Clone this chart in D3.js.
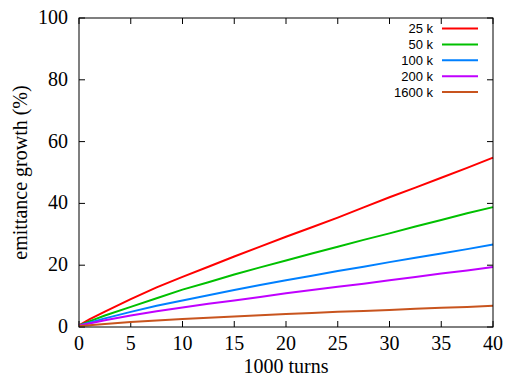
<!DOCTYPE html>
<html>
<head>
<meta charset="utf-8">
<script src="https://cdn.jsdelivr.net/npm/d3@7"></script>
<style>
  body { margin: 0; background: #fff; }
  .tick-label { font-family: "Liberation Serif", "DejaVu Serif", serif; font-size: 20px; fill: #000; }
  .axis-title { font-family: "Liberation Serif", "DejaVu Serif", serif; font-size: 20px; fill: #000; }
  .legend-text { font-family: "Liberation Sans", Arial, sans-serif; font-size: 13px; fill: #000; }
</style>
</head>
<body>
<div id="chart"></div>
<script>
// turns (x1000)
const turns = [0, 1, 2.5, 5, 7.5, 10, 12.5, 15, 17.5, 20, 22.5, 25, 27.5, 30, 32.5, 35, 37.5, 40];

// emittance growth (%) per macro-particle count
const growth25k   = [0.5, 2.5, 5.0, 9.0, 12.8, 16.2, 19.5, 22.8, 26.0, 29.2, 32.3, 35.4, 38.7, 42.0, 45.1, 48.3, 51.5, 54.8];
const growth50k   = [0.5, 1.8, 3.7, 6.5, 9.3, 12.1, 14.5, 17.0, 19.3, 21.5, 23.8, 26.0, 28.2, 30.3, 32.5, 34.6, 36.8, 38.8];
const growth100k  = [0.5, 1.4, 2.8, 4.9, 6.9, 8.6, 10.3, 12.0, 13.6, 15.1, 16.6, 18.1, 19.5, 21.0, 22.4, 23.8, 25.2, 26.7];
const growth200k  = [0.5, 1.1, 2.2, 3.7, 5.1, 6.3, 7.5, 8.6, 9.7, 10.9, 12.0, 13.0, 14.0, 15.1, 16.2, 17.3, 18.3, 19.4];
const growth1600k = [0.3, 0.6, 1.0, 1.6, 2.1, 2.6, 3.0, 3.4, 3.8, 4.2, 4.5, 4.9, 5.2, 5.5, 5.9, 6.2, 6.5, 6.9];

const seriesNames = ["25 k", "50 k", "100 k", "200 k", "1600 k"];
const seriesValues = [growth25k, growth50k, growth100k, growth200k, growth1600k];
const seriesColors = ["#ff0000", "#00c000", "#0080ff", "#c000ff", "#c8541e"];

const xTicks = [0, 5, 10, 15, 20, 25, 30, 35, 40];
const yTicks = [0, 20, 40, 60, 80, 100];

const W = 506, H = 376;
const margin = {top: 18, right: 13, bottom: 49, left: 79};
const width = W - margin.left - margin.right;
const height = H - margin.top - margin.bottom;

const svg = d3.select("#chart").append("svg")
    .attr("width", W)
    .attr("height", H);

const g = svg.append("g")
    .attr("transform", "translate(" + margin.left + "," + margin.top + ")");

const x = d3.scaleLinear().domain([0, 40]).range([0, width]);
const y = d3.scaleLinear().domain([0, 100]).range([height, 0]);

// inner ticks on all four sides (gnuplot style)
const tickLen = 6;
g.append("g").selectAll("line.xt")
    .data(xTicks).enter().append("line")
    .attr("x1", d => x(d)).attr("x2", d => x(d))
    .attr("y1", height).attr("y2", height - tickLen)
    .attr("stroke", "#000").attr("stroke-width", 1);
g.append("g").selectAll("line.xt2")
    .data(xTicks).enter().append("line")
    .attr("x1", d => x(d)).attr("x2", d => x(d))
    .attr("y1", 0).attr("y2", tickLen)
    .attr("stroke", "#000").attr("stroke-width", 1);
g.append("g").selectAll("line.yt")
    .data(yTicks).enter().append("line")
    .attr("x1", 0).attr("x2", tickLen)
    .attr("y1", d => y(d)).attr("y2", d => y(d))
    .attr("stroke", "#000").attr("stroke-width", 1);
g.append("g").selectAll("line.yt2")
    .data(yTicks).enter().append("line")
    .attr("x1", width).attr("x2", width - tickLen)
    .attr("y1", d => y(d)).attr("y2", d => y(d))
    .attr("stroke", "#000").attr("stroke-width", 1);

// tick labels
g.append("g").selectAll("text")
    .data(xTicks).enter().append("text")
    .attr("class", "tick-label")
    .attr("x", d => x(d))
    .attr("y", height + 23)
    .attr("text-anchor", "middle")
    .text(d => d);
g.append("g").selectAll("text")
    .data(yTicks).enter().append("text")
    .attr("class", "tick-label")
    .attr("x", -11)
    .attr("y", d => y(d) + 6)
    .attr("text-anchor", "end")
    .text(d => d);

// lines
const line = d3.line()
    .x((d, i) => x(turns[i]))
    .y(d => y(d));

seriesValues.forEach((vals, i) => {
    g.append("path")
        .datum(vals)
        .attr("fill", "none")
        .attr("stroke", seriesColors[i])
        .attr("stroke-width", 2)
        .attr("d", line);
});

// border
g.append("rect")
    .attr("x", 0).attr("y", 0)
    .attr("width", width).attr("height", height)
    .attr("fill", "none")
    .attr("stroke", "#000")
    .attr("stroke-width", 1);

// axis titles
svg.append("text")
    .attr("class", "axis-title")
    .attr("x", margin.left + width / 2)
    .attr("y", H - 3)
    .attr("text-anchor", "middle")
    .text("1000 turns");
svg.append("text")
    .attr("class", "axis-title")
    .attr("transform", "translate(27," + (margin.top + height / 2) + ") rotate(-90)")
    .attr("text-anchor", "middle")
    .text("emittance growth (%)");

// legend
const legend = g.append("g");
seriesNames.forEach((name, i) => {
    const ly = 10.5 + i * 15.9;
    legend.append("text")
        .attr("class", "legend-text")
        .attr("x", 354)
        .attr("y", ly + 4.5)
        .attr("text-anchor", "end")
        .text(name);
    legend.append("line")
        .attr("x1", 363).attr("x2", 399)
        .attr("y1", ly).attr("y2", ly)
        .attr("stroke", seriesColors[i])
        .attr("stroke-width", 2);
});
</script>
</body>
</html>
